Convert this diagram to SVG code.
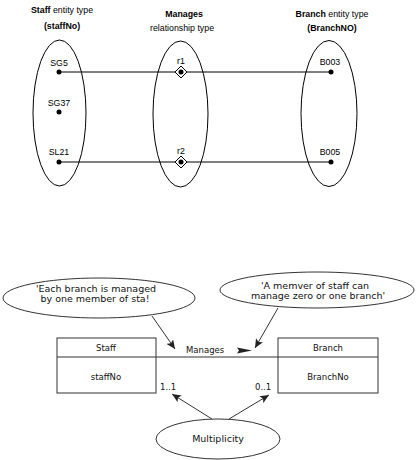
<svg xmlns="http://www.w3.org/2000/svg" width="416" height="460" viewBox="0 0 416 460">
<style>
  .t { font-family: "Liberation Sans", Arial, sans-serif; font-size: 8.8px; fill: #000; }
  .b { font-weight: bold; }
  .s { font-family: "DejaVu Sans", Verdana, sans-serif; font-size: 9.5px; fill: #111; }
  .n { font-family: "DejaVu Sans", Verdana, sans-serif; font-size: 8.5px; fill: #111; }
  .el { fill: none; stroke: #000; stroke-width: 1; }
  .el2 { fill: #fff; stroke: #333; stroke-width: 1; }
  .ln { stroke: #000; stroke-width: 1; fill: none; }
  .ln2 { stroke: #333; stroke-width: 1; fill: none; }
  .dot { fill: #000; }
  .box { fill: #fff; stroke: #333; stroke-width: 1; }
</style>
<defs>
  <marker id="ah" markerUnits="userSpaceOnUse" markerWidth="10" markerHeight="8" refX="9" refY="4" orient="auto">
    <path d="M0,0 L9,4 L0,8 L2,4 Z" fill="#222"/>
  </marker>
</defs>
<rect width="416" height="460" fill="#fff"/>

<!-- Top: headings -->
<g id="staff-heading">
  <text class="t" x="62" y="13" text-anchor="middle"><tspan class="b">Staff</tspan> entity type</text>
  <text class="t b" x="62" y="28.5" text-anchor="middle">(staffNo)</text>
</g>
<g id="manages-heading">
  <text class="t b" x="184" y="17" text-anchor="middle">Manages</text>
  <text class="t" x="182" y="31" text-anchor="middle">relationship type</text>
</g>
<g id="branch-heading">
  <text class="t" x="332" y="17" text-anchor="middle"><tspan class="b">Branch</tspan> entity type</text>
  <text class="t b" x="332" y="31" text-anchor="middle">(BranchNO)</text>
</g>

<!-- Top: connectors -->
<g id="connectors-top">
  <line class="ln" x1="59" y1="72" x2="331" y2="72"/>
  <line class="ln" x1="59" y1="162" x2="331" y2="162"/>
</g>

<!-- Top: sets -->
<g id="staff-set">
  <ellipse class="el" cx="59.5" cy="113" rx="26.5" ry="73"/>
  <text class="t" x="59" y="66" text-anchor="middle">SG5</text>
  <circle class="dot" cx="59" cy="72" r="2.5"/>
  <text class="t" x="59" y="106" text-anchor="middle">SG37</text>
  <circle class="dot" cx="59" cy="112" r="2.5"/>
  <text class="t" x="59" y="155" text-anchor="middle">SL21</text>
  <circle class="dot" cx="59" cy="162" r="2.5"/>
</g>
<g id="manages-set">
  <ellipse class="el" cx="180.5" cy="114" rx="27.5" ry="73"/>
  <text class="t" x="181" y="64" text-anchor="middle">r1</text>
  <polygon points="181,66 187,72 181,78 175,72" fill="#fff" stroke="#000" stroke-width="1"/>
  <circle class="dot" cx="181" cy="72" r="2.5"/>
  <text class="t" x="181" y="154" text-anchor="middle">r2</text>
  <polygon points="181,156 187,162 181,168 175,162" fill="#fff" stroke="#000" stroke-width="1"/>
  <circle class="dot" cx="181" cy="162" r="2.5"/>
</g>
<g id="branch-set">
  <ellipse class="el" cx="329" cy="113.5" rx="28" ry="73"/>
  <text class="t" x="330" y="65" text-anchor="middle">B003</text>
  <circle class="dot" cx="331" cy="72" r="2.5"/>
  <text class="t" x="330" y="155" text-anchor="middle">B005</text>
  <circle class="dot" cx="331" cy="162" r="2.5"/>
</g>

<!-- Bottom: connectors -->
<g id="connectors-bottom">
  <line class="ln2" x1="156" y1="357" x2="278" y2="357"/>
  <line class="ln2" x1="152" y1="316" x2="175" y2="349" marker-end="url(#ah)"/>
  <line class="ln2" x1="278" y1="308" x2="255" y2="348" marker-end="url(#ah)"/>
  <line class="ln2" x1="212" y1="419" x2="172" y2="394" marker-end="url(#ah)"/>
  <line class="ln2" x1="229" y1="419" x2="269" y2="395" marker-end="url(#ah)"/>
  <text class="n" x="186" y="352.5">Manages</text>
  <polygon points="237,347.5 252,350.5 237,353.5 239,350.5" fill="#222"/>
  <text class="n" x="160" y="390">1..1</text>
  <text class="n" x="255" y="390">0..1</text>
</g>

<g id="note-left">
  <ellipse class="el2" cx="99" cy="298" rx="96" ry="20"/>
  <text class="s" x="96" y="292" text-anchor="middle">'Each branch is managed</text>
  <text class="s" x="95" y="302" text-anchor="middle">by one member of sta!</text>
</g>
<g id="note-right">
  <ellipse class="el2" cx="317" cy="290" rx="97" ry="18"/>
  <text class="s" x="315" y="289" text-anchor="middle">'A memver of staff can</text>
  <text class="s" x="318" y="299" text-anchor="middle">manage zero or one branch'</text>
</g>

<g id="staff-class">
  <rect class="box" x="57" y="338" width="99" height="55"/>
  <line class="ln2" x1="57" y1="357" x2="156" y2="357"/>
  <text class="n" x="106" y="351" text-anchor="middle">Staff</text>
  <text class="n" x="106" y="380" text-anchor="middle">staffNo</text>
</g>
<g id="branch-class">
  <rect class="box" x="278" y="338" width="100" height="55"/>
  <line class="ln2" x1="278" y1="357" x2="378" y2="357"/>
  <text class="n" x="328" y="351" text-anchor="middle">Branch</text>
  <text class="n" x="328" y="380" text-anchor="middle">BranchNo</text>
</g>

<g id="multiplicity">
  <ellipse class="el2" cx="218" cy="439" rx="62" ry="20"/>
  <text class="s" x="218" y="442" text-anchor="middle">Multiplicity</text>
</g>
</svg>
